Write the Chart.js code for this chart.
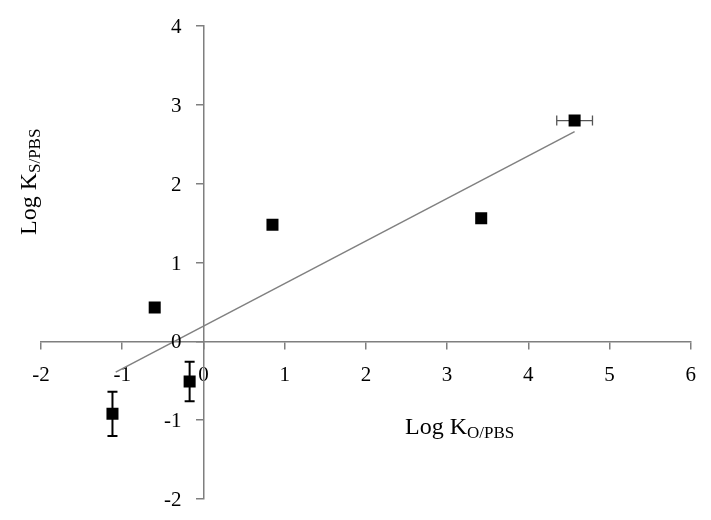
<!DOCTYPE html>
<html lang="en">
<head>
    <meta charset="UTF-8">
    <title>Log K S/PBS vs Log K O/PBS</title>
    <script src="https://cdn.jsdelivr.net/npm/chart.js@4.4.1/dist/chart.umd.min.js"></script>
    <style>
        body { margin: 0; background: #fff; }
        #wrap { width: 711px; height: 520px; }
    </style>
</head>
<body>
    <div id="wrap"><canvas id="chart"></canvas></div>
    <script>
        // values
        const logKo = [-1.12, -0.60, -0.17, 0.85, 3.42, 4.57];
        const logKs = [-0.92, 0.43, -0.51, 1.48, 1.56, 2.80];
        const errY = [0.28, 0, 0.25, 0, 0, 0];
        const errX = [0, 0, 0, 0, 0, 0.22];
        const trendX = [-1.08, 4.57];
        const trendY = [-0.39, 2.66];
        const xTicks = [-2, -1, 0, 1, 2, 3, 4, 5, 6];
        const yTicks = [-2, -1, 0, 1, 2, 3, 4];

        const axisGray = '#7f7f7f';
        const serif = 'Liberation Serif, Times New Roman, serif';

        const errorBars = {
            id: 'errorBars',
            beforeDatasetsDraw(chart) {
                const ctx = chart.ctx;
                const xs = chart.scales.x, ys = chart.scales.y;
                ctx.save();
                logKo.forEach((v, i) => {
                    const px = xs.getPixelForValue(v);
                    const py = ys.getPixelForValue(logKs[i]);
                    if (errY[i]) {
                        const t = ys.getPixelForValue(logKs[i] + errY[i]);
                        const b = ys.getPixelForValue(logKs[i] - errY[i]);
                        ctx.strokeStyle = '#000';
                        ctx.lineWidth = 2;
                        ctx.beginPath();
                        ctx.moveTo(px, t); ctx.lineTo(px, b);
                        ctx.moveTo(px - 5, t); ctx.lineTo(px + 5, t);
                        ctx.moveTo(px - 5, b); ctx.lineTo(px + 5, b);
                        ctx.stroke();
                    }
                    if (errX[i]) {
                        const l = xs.getPixelForValue(v - errX[i]);
                        const r = xs.getPixelForValue(v + errX[i]);
                        ctx.strokeStyle = '#555';
                        ctx.lineWidth = 1.3;
                        ctx.beginPath();
                        ctx.moveTo(l, py); ctx.lineTo(r, py);
                        ctx.moveTo(l, py - 5); ctx.lineTo(l, py + 5);
                        ctx.moveTo(r, py - 5); ctx.lineTo(r, py + 5);
                        ctx.stroke();
                    }
                });
                ctx.restore();
            }
        };

        // axis titles with subscripts, and the y tick labels left of the crossing axis
        function subTitle(ctx, x, y, main, sub) {
            ctx.font = '24px ' + serif;
            ctx.fillText(main, x, y);
            const w = ctx.measureText(main).width;
            ctx.font = '17px ' + serif;
            ctx.fillText(sub, x + w, y + 4);
        }
        const axisText = {
            id: 'axisText',
            afterDraw(chart) {
                const ctx = chart.ctx;
                const ys = chart.scales.y;
                const x0 = chart.scales.x.getPixelForValue(0);
                ctx.save();
                ctx.fillStyle = '#000';
                ctx.textBaseline = 'alphabetic';
                ctx.textAlign = 'right';
                ctx.font = '21px ' + serif;
                yTicks.forEach(v => {
                    ctx.fillText(String(v), x0 - 22, ys.getPixelForValue(v) + 7);
                });
                ctx.textAlign = 'left';
                subTitle(ctx, 405, 434, 'Log K', 'O/PBS');
                ctx.translate(36, 235);
                ctx.rotate(-Math.PI / 2);
                subTitle(ctx, 0, 0, 'Log K', 'S/PBS');
                ctx.restore();
            }
        };

        new Chart(document.getElementById('chart'), {
            type: 'scatter',
            data: {
                datasets: [{
                    label: 'data',
                    data: logKo.map((x, i) => ({x: x, y: logKs[i]})),
                    pointStyle: 'rect',
                    pointRadius: 8.5,
                    pointHoverRadius: 8.5,
                    backgroundColor: '#000',
                    borderColor: '#000',
                    borderWidth: 0
                }, {
                    label: 'trend',
                    data: trendX.map((x, i) => ({x: x, y: trendY[i]})),
                    showLine: true,
                    borderColor: '#808080',
                    borderWidth: 1.5,
                    pointRadius: 0
                }]
            },
            options: {
                responsive: true,
                maintainAspectRatio: false,
                animation: false,
                layout: { padding: { left: 41, right: 19, top: 26, bottom: 21 } },
                plugins: { legend: { display: false }, tooltip: { enabled: false } },
                scales: {
                    x: {
                        type: 'linear',
                        position: { y: 0 },
                        min: -2, max: 6,
                        afterBuildTicks: s => { s.ticks = xTicks.map(v => ({value: v})); },
                        grid: { drawOnChartArea: false, tickLength: 7, color: axisGray, lineWidth: 1.5 },
                        border: { color: axisGray, width: 1.5 },
                        ticks: { autoSkip: false, padding: 15, color: '#000', font: { family: serif, size: 21 } }
                    },
                    y: {
                        type: 'linear',
                        position: { x: 0 },
                        min: -2, max: 4,
                        afterBuildTicks: s => { s.ticks = yTicks.map(v => ({value: v})); },
                        grid: { drawOnChartArea: false, tickLength: 7, color: axisGray, lineWidth: 1.5 },
                        border: { color: axisGray, width: 1.5 },
                        ticks: { display: false }
                    }
                }
            },
            plugins: [errorBars, axisText]
        });
    </script>
</body>
</html>
